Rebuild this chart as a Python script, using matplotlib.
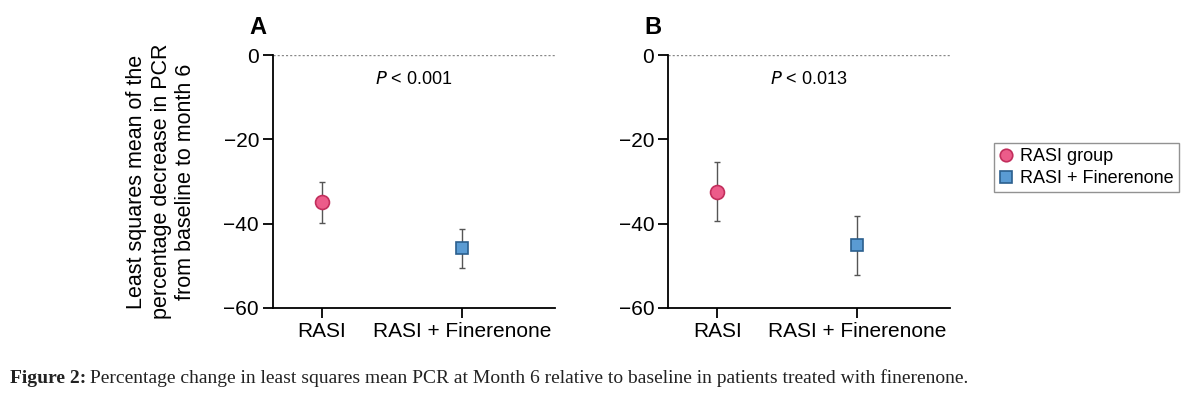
import matplotlib
matplotlib.use('Agg')
import matplotlib.pyplot as plt

plt.rcParams['font.family'] = ['Liberation Sans', 'DejaVu Sans']

groups = ['RASI', 'RASI + Finerenone']
legend_labels = ['RASI group', 'RASI + Finerenone']
panels = ['A', 'B']
p_texts = ['< 0.001', '< 0.013']

# means, lower and upper ends of the error bars, per panel
means = [[-34.8, -45.8], [-32.5, -45.0]]
lower = [[-39.8, -50.5], [-39.4, -52.2]]
upper = [[-30.1, -41.3], [-25.4, -38.2]]

yticks = [0, -20, -40, -60]
ylabel = 'Least squares mean of the\npercentage decrease in PCR\nfrom baseline to month 6'
caption_bold = 'Figure 2:'
caption = ' Percentage change in least squares mean PCR at Month 6 relative to baseline in patients treated with finerenone.'

pink = '#ec5c8a'
pink_edge = '#c22e5c'
blue = '#5a9bd3'
blue_edge = '#2b5f8e'

fig = plt.figure(figsize=(12, 3.94), dpi=100)
lefts = [0.2275, 0.5567]
handles = []
for i in range(2):
    ax = fig.add_axes([lefts[i], 0.2183, 0.235, 0.642])
    for j in range(2):
        m = means[i][j]
        err = [[m - lower[i][j]], [upper[i][j] - m]]
        ax.errorbar([j], [m], yerr=err, fmt='none', ecolor='#555555',
                    elinewidth=1, capsize=2.5, capthick=1, zorder=2)
    h1, = ax.plot([0], [means[i][0]], 'o', ms=10, mfc=pink, mec=pink_edge, mew=1.2, zorder=3)
    h2, = ax.plot([1], [means[i][1]], 's', ms=9, mfc=blue, mec=blue_edge, mew=1.2, zorder=3)
    handles = [h1, h2]
    ax.axhline(0, color='#888888', ls=(0, (1.5, 1.5)), lw=1, zorder=1)
    ax.set_xlim(-0.351, 1.665)
    ax.set_ylim(-60, 0)
    ax.set_yticks(yticks)
    ax.set_yticklabels(['0', '\u221220', '\u221240', '\u221260'])
    ax.set_xticks([0, 1])
    ax.set_xticklabels(groups)
    ax.spines['top'].set_visible(False)
    ax.spines['right'].set_visible(False)
    ax.spines['left'].set_linewidth(1.3)
    ax.spines['bottom'].set_linewidth(1.3)
    ax.tick_params(axis='both', labelsize=15, length=7, width=1.3, direction='out', pad=3)
    ax.text(-0.053, 1.11, panels[i], transform=ax.transAxes, fontsize=17,
            fontweight='bold', ha='center', va='center')
    ax.text(0.5, 0.905, '$P$ ' + p_texts[i], transform=ax.transAxes, fontsize=13,
            ha='center', va='center')
    if i == 0:
        ax.set_ylabel(ylabel, fontsize=15.5, labelpad=20, linespacing=1.2)

leg = fig.legend(handles, legend_labels, loc='upper left', bbox_to_anchor=(0.821, 0.66),
                 fontsize=13, frameon=True, fancybox=False, edgecolor='#777777',
                 handlelength=0.7, handletextpad=0.4, borderpad=0.3, labelspacing=0.25,
                 markerscale=0.9)
leg.get_frame().set_linewidth(1)

fig.text(0.008, 0.04, caption_bold, fontsize=14, fontweight='bold',
         family=['Liberation Serif', 'DejaVu Serif'], va='center', color='#222222')
fig.text(0.008 + 0.0625, 0.04, caption, fontsize=14,
         family=['Liberation Serif', 'DejaVu Serif'], va='center', color='#222222')

fig.savefig('out.png', dpi=100)
